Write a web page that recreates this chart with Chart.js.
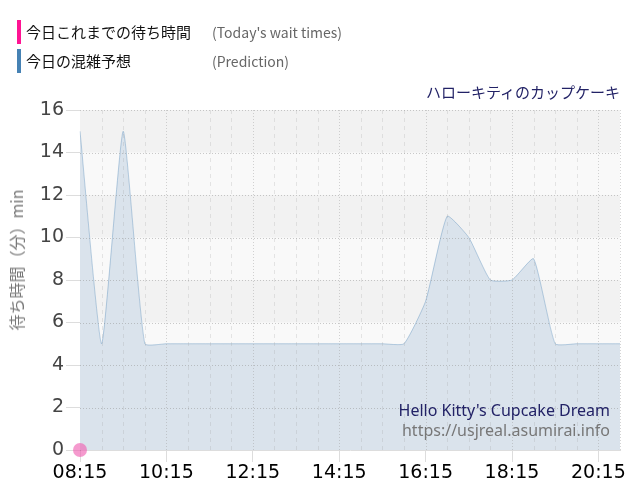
<!DOCTYPE html>
<html>
<head>
<meta charset="utf-8">
<script src="https://cdn.jsdelivr.net/npm/chart.js"></script>
<style>
  body { margin: 0; background: #fff; }
  #wrap { position: relative; width: 640px; height: 500px; }
  .txt { position: absolute; white-space: nowrap; pointer-events: none; }
  .bar { position: absolute; width: 4px; height: 24px; }
  .jp { font-family: "Noto Sans CJK JP", sans-serif; }
</style>
</head>
<body>
<div id="wrap">
  <canvas id="myChart"></canvas>
  <div class="bar" style="left:17px; top:20px; background:#ff1493;"></div>
  <div class="bar" style="left:17px; top:49px; background:#4682b4;"></div>
  <div class="txt jp" style="left:26px; top:21px; font-size:15px; color:#111;">今日これまでの待ち時間</div>
  <div class="txt jp" style="left:212px; top:22px; font-size:14px; color:#666;">(Today's wait times)</div>
  <div class="txt jp" style="left:26px; top:50px; font-size:15px; color:#111;">今日の混雑予想</div>
  <div class="txt jp" style="left:212px; top:51px; font-size:14px; color:#666;">(Prediction)</div>
  <div class="txt jp" style="right:20px; top:81px; font-size:15px; color:#222266;">ハローキティのカップケーキ</div>
  <div class="txt" style="right:30px; top:399px; font-size:16px; color:#222266; font-family:'Noto Sans', sans-serif;">Hello Kitty's Cupcake Dream</div>
  <div class="txt" style="right:30px; top:419px; font-size:16px; color:#777; font-family:'Noto Sans', sans-serif;">https://usjreal.asumirai.info</div>
  <div class="txt jp" style="left:16px; top:260px; font-size:16px; color:#777; transform:translate(-50%,-50%) rotate(-90deg);">待ち時間（分）min</div>
</div>
<script>
// data (30 minute steps)
var times = ['08:15','08:45','09:15','09:45','10:15','10:45','11:15','11:45','12:15','12:45',
             '13:15','13:45','14:15','14:45','15:15','15:45','16:15','16:45','17:15','17:45',
             '18:15','18:45','19:15','19:45','20:15','20:45'];
var prediction = [15, 5, 15, 5, 5, 5, 5, 5, 5, 5,
                  5, 5, 5, 5, 5, 5, 7, 11, 10, 8,
                  8, 9, 5, 5, 5, 5];
var todayWait = [0];
var yTicks = [0, 2, 4, 6, 8, 10, 12, 14, 16];

// background bands under the data
var plotBg = {
    id: 'plotBg',
    beforeDatasetsDraw: function(chart) {
        var c = chart.ctx, a = chart.chartArea, y = chart.scales.y;
        c.save();
        for (var i = 0; i < yTicks.length - 1; i++) {
            var top = y.getPixelForValue(yTicks[i + 1]);
            var bot = y.getPixelForValue(yTicks[i]);
            c.fillStyle = (i % 2 == 1) ? '#f2f2f2' : '#f9f9f9';
            c.fillRect(a.left, top, a.right - a.left, bot - top);
        }
        c.restore();
    },
    // grid lines drawn over the area fill
    afterDatasetsDraw: function(chart) {
        var c = chart.ctx, a = chart.chartArea, y = chart.scales.y, x = chart.scales.x;
        c.save();
        c.lineWidth = 1;
        for (var j = 1; j < times.length; j++) {
            var px = Math.round(x.getPixelForTick(j)) + 0.5;
            var major = (j % 4 == 0) || j == times.length - 1;
            c.strokeStyle = major ? 'rgba(150,150,150,0.4)' : 'rgba(150,150,150,0.22)';
            c.setLineDash(major ? [1, 2] : [4, 4]);
            c.beginPath(); c.moveTo(px, a.top); c.lineTo(px, a.bottom); c.stroke();
        }
        c.strokeStyle = 'rgba(140,140,140,0.45)';
        c.setLineDash([1, 2]);
        for (var k = 1; k < yTicks.length; k++) {
            var py = Math.round(y.getPixelForValue(yTicks[k])) + 0.5;
            c.beginPath(); c.moveTo(a.left, py); c.lineTo(a.right, py); c.stroke();
        }
        c.restore();
    }
};

var ctx = document.getElementById('myChart').getContext('2d');
var chart = new Chart(ctx, {
    type: 'line',
    data: {
        labels: times,
        datasets: [{
            label: '今日これまでの待ち時間',
            data: todayWait,
            pointRadius: 7,
            pointBackgroundColor: 'rgba(240, 100, 180, 0.65)',
            pointBorderWidth: 0,
            showLine: false,
            clip: false,
            order: 0
        }, {
            label: '今日の混雑予想',
            data: prediction,
            fill: 'origin',
            backgroundColor: '#dae3ec',
            borderColor: 'rgba(70, 130, 180, 0.35)',
            borderWidth: 1,
            pointRadius: 0,
            tension: 0.15,
            order: 1
        }]
    },
    options: {
        responsive: true,
        maintainAspectRatio: false,
        animation: false,
        layout: { padding: { top: 110, right: 20, left: 0, bottom: 0 } },
        scales: {
            x: {
                grid: {
                    drawOnChartArea: false,
                    tickLength: 12,
                    tickColor: function(c) { return c.index % 4 == 0 ? '#dddddd' : 'rgba(0,0,0,0)'; }
                },
                border: { color: '#dddddd' },
                ticks: {
                    autoSkip: false,
                    maxRotation: 0,
                    padding: 0,
                    color: '#000',
                    font: { family: 'DejaVu Sans', size: 19 },
                    callback: function(v, i) { return i % 4 == 0 ? times[i] : ''; }
                },
                afterFit: function(s) { s.height = 50; }
            },
            y: {
                min: 0,
                max: 16,
                ticks: { stepSize: 2, padding: 2, color: '#444', font: { family: 'DejaVu Sans', size: 19 } },
                grid: { drawOnChartArea: false, tickLength: 14, tickColor: '#dddddd' },
                border: { color: '#999999' },
                afterFit: function(s) { s.width = 80; }
            }
        },
        plugins: {
            legend: { display: false },
            tooltip: { enabled: false }
        }
    },
    plugins: [plotBg]
});
</script>
</body>
</html>
